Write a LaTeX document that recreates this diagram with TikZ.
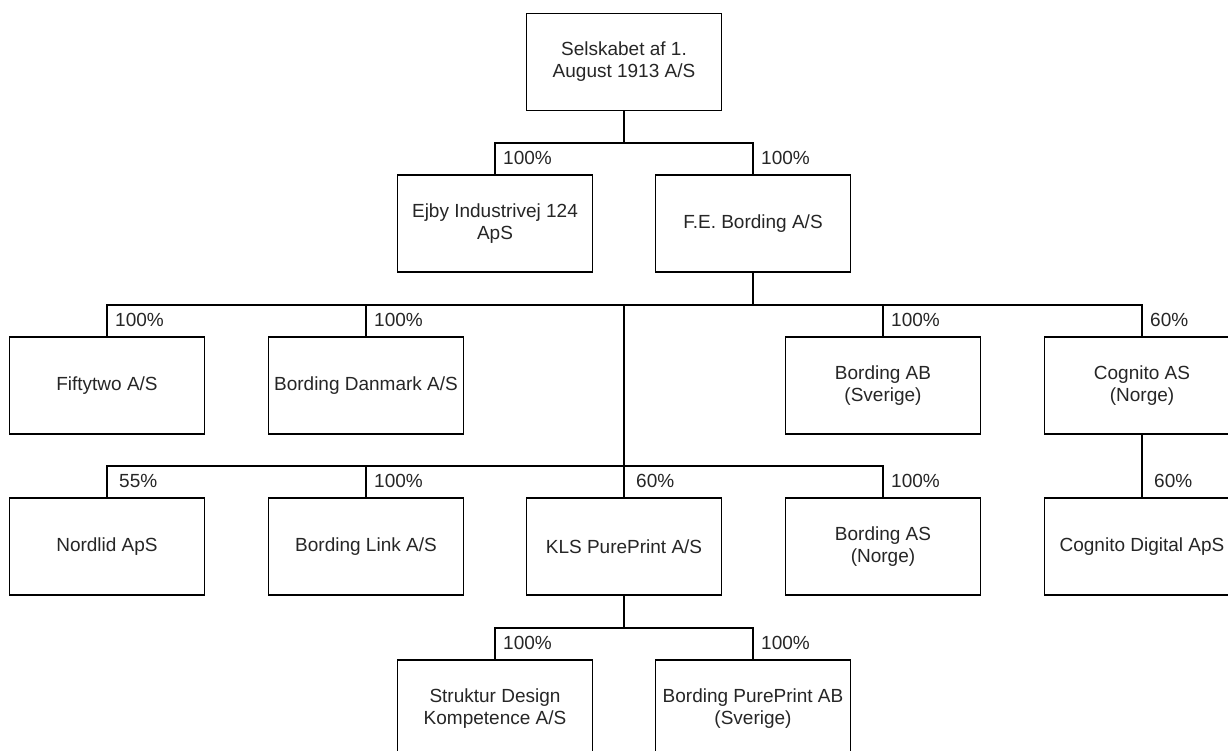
\documentclass[tikz,border=0pt]{standalone}
\usepackage{fontspec}
\setmainfont{Liberation Sans}
\usetikzlibrary{calc}
\begin{document}
\begin{tikzpicture}[x=1pt,y=-1pt,
  box/.style={draw=black,line width=1.4pt,minimum width=195pt,minimum height=97pt,
    inner sep=0pt,align=center,text=black!85,font=\fontsize{19}{22}\selectfont},
  pct/.style={inner sep=0pt,anchor=west,text=black!85,font=\fontsize{19}{22}\selectfont},
  link/.style={draw=black,line width=1.4pt}]
\clip (0,0) rectangle (1228,751);
\fill[white] (0,0) rectangle (1228,751);
% rows
\node[box] (top) at (624,62) {Selskabet af 1.\\August 1913 A/S};
\node[box] (ejby) at (495,223.5) {Ejby Industrivej 124\\ApS};
\node[box] (fe) at (753,223.5) {F.E. Bording A/S};
\node[box] (fifty) at (107,385.5) {Fiftytwo A/S};
\node[box] (bdk) at (366,385.5) {Bording Danmark A/S};
\node[box] (bab) at (883,385.5) {Bording AB\\(Sverige)};
\node[box] (cog) at (1142,385.5) {Cognito AS\\(Norge)};
\node[box] (nord) at (107,546.5) {Nordlid ApS};
\node[box] (link) at (366,546.5) {Bording Link A/S};
\node[box] (kls) at (624,546.5) {KLS PurePrint A/S};
\node[box] (bas) at (883,546.5) {Bording AS\\(Norge)};
\node[box] (cogd) at (1142,546.5) {Cognito Digital ApS};
\node[box] (struk) at (495,708.5) {Struktur Design\\Kompetence A/S};
\node[box] (bpp) at (753,708.5) {Bording PurePrint AB\\(Sverige)};
% bar levels
\coordinate (b1) at (0,143);
\coordinate (b2) at (0,305);
\coordinate (b3) at (0,466);
\coordinate (b4) at (0,628);
% connectors
\draw[link] (top.south) -- (top.south |- b1) -| (ejby.north);
\draw[link] (top.south) -- (top.south |- b1) -| (fe.north);
\draw[link] (fe.south) -- (fe.south |- b2) -| (fifty.north);
\draw[link] (fe.south) -- (fe.south |- b2) -| (bdk.north);
\draw[link] (fe.south) -- (fe.south |- b2) -| (bab.north);
\draw[link] (fe.south) -- (fe.south |- b2) -| (cog.north);
\draw[link] (fe.south) -- (fe.south |- b2) -- (kls.north |- b2) -- (kls.north |- b3) -| (nord.north);
\draw[link] (fe.south) -- (fe.south |- b2) -- (kls.north |- b2) -- (kls.north |- b3) -| (link.north);
\draw[link] (fe.south) -- (fe.south |- b2) -- (kls.north |- b2) -- (kls.north);
\draw[link] (fe.south) -- (fe.south |- b2) -- (kls.north |- b2) -- (kls.north |- b3) -| (bas.north);
\draw[link] (cog.south) -- (cogd.north);
\draw[link] (kls.south) -- (kls.south |- b4) -| (struk.north);
\draw[link] (kls.south) -- (kls.south |- b4) -| (bpp.north);
% labels
\node[pct] (l1) at ($(ejby.north)+(8,-16)$) {100\%};
\node[pct] (l2) at ($(fe.north)+(8,-16)$) {100\%};
\node[pct] (l3) at ($(fifty.north)+(8,-16)$) {100\%};
\node[pct] (l4) at ($(bdk.north)+(8,-16)$) {100\%};
\node[pct] (l5) at ($(bab.north)+(8,-16)$) {100\%};
\node[pct] (l6) at ($(cog.north)+(8,-16)$) {60\%};
\node[pct] (l7) at ($(nord.north)+(12,-16)$) {55\%};
\node[pct] (l8) at ($(link.north)+(8,-16)$) {100\%};
\node[pct] (l9) at ($(kls.north)+(12,-16)$) {60\%};
\node[pct] (l10) at ($(bas.north)+(8,-16)$) {100\%};
\node[pct] (l11) at ($(cogd.north)+(12,-16)$) {60\%};
\node[pct] (l12) at ($(struk.north)+(8,-16)$) {100\%};
\node[pct] (l13) at ($(bpp.north)+(8,-16)$) {100\%};
\end{tikzpicture}
\end{document}
